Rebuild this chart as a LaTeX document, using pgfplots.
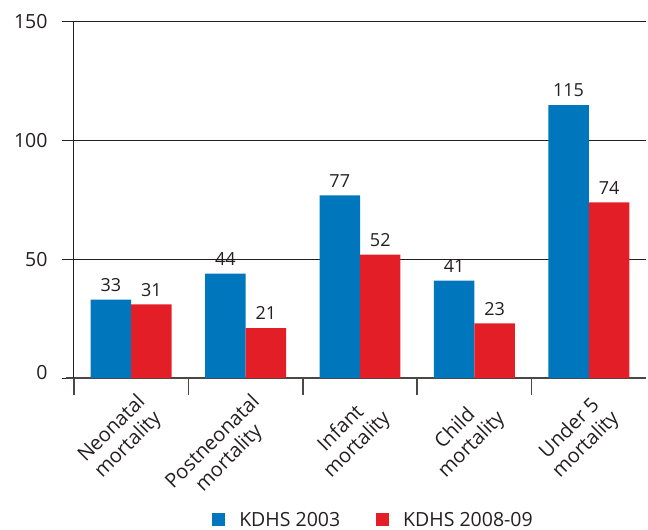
\documentclass[border=0pt]{standalone}
\usepackage{pgfplots}
\pgfplotsset{compat=1.18}
\usepackage{fontspec}
\setmainfont{Open Sans}
\definecolor{kblue}{RGB}{0,119,189}
\definecolor{kred}{RGB}{228,30,38}
\definecolor{txt}{RGB}{35,31,32}
\definecolor{axgray}{RGB}{77,70,70}
\begin{document}
\begin{tikzpicture}
\begin{axis}[
  scale only axis, width=572pt, height=356pt,
  xmin=-0.5, xmax=4.5, ymin=0, ymax=150,
  axis x line=bottom, axis y line=left,
  axis line style={-},
  x axis line style={draw=axgray, line width=2pt, shorten <=-8pt},
  y axis line style={draw=txt, line width=1pt},
  ytick={0,50,100,150},
  yticklabels={{\raisebox{12pt}{0}},50,100,150},
  ymajorgrids, grid style={draw=txt, line width=1pt},
  tick align=outside,
  major tick length=12pt,
  ytick style={draw=txt, line width=1pt},
  xtick={0,1,2,3,4},
  xtick style={draw=none},
  xticklabels={{Neonatal\\mortality},{Postneonatal\\mortality},{Infant\\mortality},{Child\\mortality},{Under 5\\mortality}},
  extra x ticks={-0.5,0.5,1.5,2.5,3.5},
  extra x tick labels={},
  extra x tick style={major tick length=17pt, xtick style={draw=axgray, line width=1.5pt}},
  xticklabel style={xshift=4pt, yshift=3pt, rotate=45, anchor=north east, align=center, font=\fontsize{20}{23}\selectfont, text=txt},
  yticklabel style={font=\fontsize{19.5}{22}\selectfont, text=txt, xshift=-11pt},
  /pgf/number format/assume math mode=true,
  ybar=0pt, bar width=0.354,
  nodes near coords,
  nodes near coords style={font=\fontsize{18}{20}\selectfont, text=txt, inner sep=0pt, anchor=south, yshift=8pt},
  legend columns=2,
  legend style={at={(0.5236,-0.427)}, anchor=south, draw=none, fill=none, inner sep=0pt,
    font=\fontsize{19.5}{22}\selectfont, text=txt,
    /tikz/every odd column/.style={column sep=12pt},
    /tikz/every even column/.style={column sep=34pt}},
  legend image code/.code={\fill[#1] (0pt,-6.5pt) rectangle (13pt,6.5pt);},
]
\addplot[fill=kblue, draw=none] coordinates {(0,33) (1,44) (2,77) (3,41) (4,115)};
\addplot[fill=kred, draw=none] coordinates {(0,31) (1,21) (2,52) (3,23) (4,74)};
\legend{KDHS 2003, KDHS 2008-09}
\coordinate (ll) at (rel axis cs:0,0);
\coordinate (ur) at (rel axis cs:1,1);
\end{axis}
\pgfresetboundingbox
\path[use as bounding box] ([shift={(-74pt,-152pt)}]ll) rectangle ([shift={(2pt,22pt)}]ur);
\end{tikzpicture}
\end{document}
